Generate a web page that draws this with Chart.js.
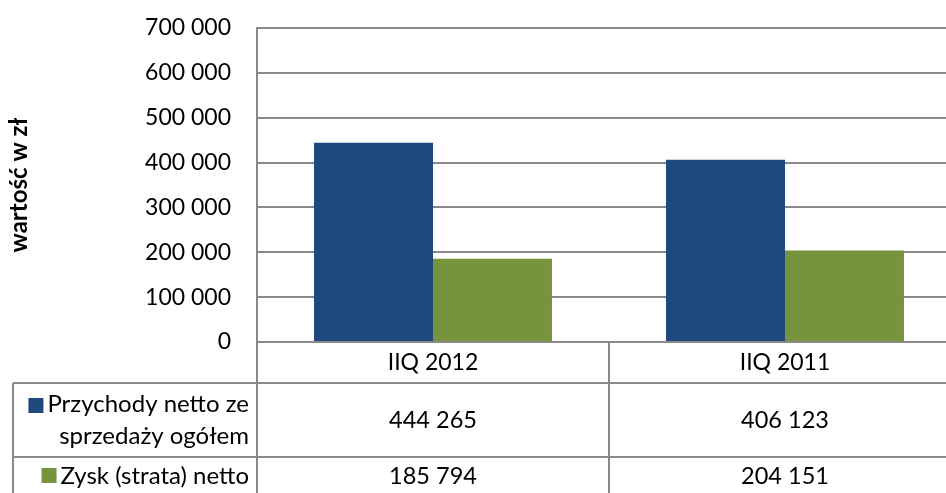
<!DOCTYPE html>
<html>
<head>
<meta charset="utf-8">
<script src="https://cdn.jsdelivr.net/npm/chart.js@4"></script>
<style>
    body { margin: 0; overflow: hidden; background: #fff; }
    #wrap { width: 962px; height: 493px; }
</style>
</head>
<body>
<div id="wrap"><canvas id="wykres" width="962" height="493"></canvas></div>
<script>
//DANE WYKRESU
var kategorie = ["IIQ 2012", "IIQ 2011"];
var przychody = [444265, 406123];
var zysk = [185794, 204151];
var nazwaPrzychody = ["Przychody netto ze", "sprzedaży ogółem"];
var nazwaZysk = ["Zysk (strata) netto"];
var osMax = 700000;
var osKrok = 100000;

var kolorNiebieski = "#1F497D";
var kolorZielony = "#77933C";
var kolorLinii = "#898989";
var czcionka = "Lato";

//FORMAT LICZBY ZE SPACJA JAKO SEPARATOREM TYSIECY
function formatLiczby(v) {
    return String(v).replace(/\B(?=(\d{3})+(?!\d))/g, " ");
}

//RYSUJE TABELE DANYCH POD WYKRESEM
var tabelaDanych = {
    id: "tabelaDanych",
    afterDraw: function (chart) {
        var ctx = chart.ctx;
        var x = chart.scales.x;
        var area = chart.chartArea;
        var dol = chart.height;
        var wiersz1 = 383, wiersz2 = 457;
        var lewo = 13;

        ctx.save();
        ctx.strokeStyle = kolorLinii;
        ctx.lineWidth = 2;
        ctx.beginPath();
        //LINIE POZIOME
        ctx.moveTo(lewo, wiersz1); ctx.lineTo(area.right, wiersz1);
        ctx.moveTo(lewo, wiersz2); ctx.lineTo(area.right, wiersz2);
        //LINIE PIONOWE
        ctx.moveTo(lewo, wiersz1); ctx.lineTo(lewo, dol);
        ctx.moveTo(area.left, area.bottom); ctx.lineTo(area.left, dol);
        for (var i = 0; i < kategorie.length - 1; i++) {
            var granica = (x.getPixelForValue(i) + x.getPixelForValue(i + 1)) / 2;
            ctx.moveTo(granica, area.bottom); ctx.lineTo(granica, dol);
        }
        ctx.stroke();

        ctx.font = "24px " + czcionka;
        ctx.fillStyle = "#000";
        ctx.textBaseline = "middle";

        //NAZWY SERII Z KWADRATAMI LEGENDY
        ctx.textAlign = "right";
        ctx.fillText(nazwaPrzychody[0], 249, 404);
        ctx.fillText(nazwaPrzychody[1], 249, 436);
        ctx.fillText(nazwaZysk[0], 249, 476);
        var szer = ctx.measureText(nazwaPrzychody[0]).width;
        ctx.fillStyle = kolorNiebieski;
        ctx.fillRect(249 - szer - 19, 398, 15, 15);
        szer = ctx.measureText(nazwaZysk[0]).width;
        ctx.fillStyle = kolorZielony;
        ctx.fillRect(249 - szer - 19, 468, 15, 15);

        //WARTOSCI
        ctx.font = "23.5px " + czcionka;
        ctx.fillStyle = "#000";
        ctx.textAlign = "center";
        for (var j = 0; j < kategorie.length; j++) {
            var px = x.getPixelForValue(j);
            ctx.fillText(formatLiczby(przychody[j]), px, 420);
            ctx.fillText(formatLiczby(zysk[j]), px, 476);
        }
        ctx.restore();
    }
};

var ctx = document.getElementById("wykres").getContext("2d");
new Chart(ctx, {
    type: "bar",
    data: {
        labels: kategorie,
        datasets: [{
            label: nazwaPrzychody.join(" "),
            data: przychody,
            backgroundColor: kolorNiebieski
        }, {
            label: nazwaZysk.join(" "),
            data: zysk,
            backgroundColor: kolorZielony
        }]
    },
    options: {
        responsive: false,
        animation: false,
        categoryPercentage: 0.676,
        barPercentage: 1.0,
        layout: { padding: { top: 28, left: 0, right: 1, bottom: 0 } },
        plugins: {
            legend: { display: false },
            tooltip: { enabled: false }
        },
        scales: {
            x: {
                grid: { display: false, drawTicks: false },
                border: { display: true, color: kolorLinii, width: 2 },
                ticks: { color: "#000", font: { family: czcionka, size: 23 }, padding: 7 },
                afterFit: function (scale) { scale.height = 151; }
            },
            y: {
                min: 0,
                max: osMax,
                ticks: {
                    stepSize: osKrok,
                    color: "#000",
                    font: { family: czcionka, size: 23 },
                    padding: 26,
                    callback: function (v) { return formatLiczby(v); }
                },
                grid: { color: kolorLinii, lineWidth: 2, drawTicks: false },
                border: { display: true, color: kolorLinii, width: 2 },
                title: {
                    display: true,
                    text: "wartość w zł",
                    color: "#000",
                    font: { family: czcionka, size: 24, weight: "bold" },
                    padding: { top: 5, bottom: 4 }
                },
                afterFit: function (scale) {
                    scale.width = 257;
                    //BEZ DODATKOWEGO MARGINESU OD ETYKIET
                    scale.paddingTop = 0;
                    scale.paddingBottom = 0;
                }
            }
        }
    },
    plugins: [tabelaDanych]
});
</script>
</body>
</html>
